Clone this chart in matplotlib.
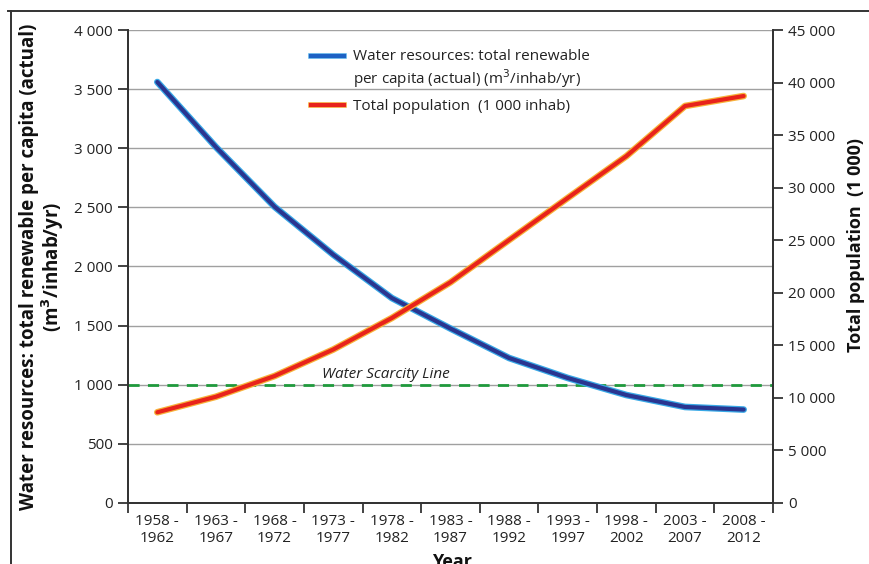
import matplotlib
matplotlib.use("Agg")
import matplotlib.pyplot as plt
import matplotlib.patheffects as pe
from matplotlib.lines import Line2D
from matplotlib.ticker import FuncFormatter, MultipleLocator, FixedLocator

plt.rcParams['font.family'] = ['Open Sans', 'DejaVu Sans']

periodos = ["1958 -\n1962", "1963 -\n1967", "1968 -\n1972", "1973 -\n1977",
            "1978 -\n1982", "1983 -\n1987", "1988 -\n1992", "1993 -\n1997",
            "1998 -\n2002", "2003 -\n2007", "2008 -\n2012"]
agua_per_capita = [3560, 3010, 2505, 2100, 1733, 1475, 1226, 1057, 913, 812, 790]
populacao = [8630, 10110, 12080, 14600, 17600, 21000, 25020, 29020, 33000, 37770, 38720]
linha_escassez = 1000

fig = plt.figure(figsize=(8.69, 5.64), dpi=100)
ax = fig.add_axes([0.1473, 0.1082, 0.7422, 0.8386])
ax2 = ax.twinx()

x = list(range(len(periodos)))

def milhar(v, pos):
    return f"{int(v):,}".replace(",", " ")

# eixo esquerdo: agua per capita
ax.set_ylim(0, 4000)
ax.set_xlim(-0.5, len(periodos) - 0.5)
ax.yaxis.set_major_locator(MultipleLocator(500))
ax.yaxis.set_major_formatter(FuncFormatter(milhar))
ax.grid(axis='y', color='#a0a0a0', linewidth=1.0)
ax.set_axisbelow(True)

ax.axhline(linha_escassez, color='#1f9a3c', linewidth=2, linestyle=(0, (4, 3)), zorder=2)
ax.text(0.301, linha_escassez + 25, "Water Scarcity Line", transform=ax.get_yaxis_transform(),
        fontsize=11, style='italic', color='#222222', va='bottom', ha='left')

azul, = ax.plot(x, agua_per_capita, color='#2a3590', linewidth=3, zorder=4,
                solid_capstyle='round',
                path_effects=[pe.Stroke(linewidth=4.8, foreground='#38a8e6'), pe.Normal()])

# eixo direito: populacao
ax2.set_ylim(0, 45000)
ax2.yaxis.set_major_locator(MultipleLocator(5000))
ax2.yaxis.set_major_formatter(FuncFormatter(milhar))
vermelho, = ax2.plot(x, populacao, color='#e8231b', linewidth=3, zorder=4,
                     solid_capstyle='round',
                     path_effects=[pe.Stroke(linewidth=4.8, foreground='#f7b23a'), pe.Normal()])

# categorias no meio, marcas nos limites
ax.xaxis.set_major_locator(FixedLocator([i - 0.5 for i in range(len(periodos) + 1)]))
ax.xaxis.set_major_formatter(FuncFormatter(lambda v, p: ""))
ax.xaxis.set_minor_locator(FixedLocator(x))
ax.set_xticklabels(periodos, minor=True)
ax.tick_params(axis='x', which='major', direction='out', length=7, width=1.2, color='#222222')
ax.tick_params(axis='x', which='minor', length=0, pad=8, labelsize=11, labelcolor='#222222')
ax.tick_params(axis='y', direction='out', length=7, width=1.2, color='#222222',
               labelsize=11, labelcolor='#222222', pad=4)
ax2.tick_params(axis='y', direction='out', length=7, width=1.2, color='#222222',
                labelsize=11, labelcolor='#222222', pad=4)

for a in (ax, ax2):
    a.spines['top'].set_visible(False)
    for s in ('left', 'right', 'bottom'):
        a.spines[s].set_color('#333333')
        a.spines[s].set_linewidth(1.3)

# legenda
h1 = Line2D([], [], color='#1d62c4', linewidth=3,
            path_effects=[pe.Stroke(linewidth=4, foreground='#5ab4ea'), pe.Normal()])
h2 = Line2D([], [], color='#e8231b', linewidth=3,
            path_effects=[pe.Stroke(linewidth=4, foreground='#f7b23a'), pe.Normal()])
leg = ax.legend([h1, h2],
                ["Water resources: total renewable\nper capita (actual) (m$^3$/inhab/yr)",
                 "Total population  (1 000 inhab)"],
                loc='upper left', bbox_to_anchor=(0.262, 0.989), frameon=False,
                fontsize=11, handlelength=2.2, handletextpad=0.55, labelspacing=0.6)
for t in leg.get_texts():
    t.set_color('#222222')
# a linha da primeira entrada fica na altura da primeira linha do texto
linha_leg = leg.legend_handles[0]
linha_leg.set_ydata([v + 10 for v in linha_leg.get_ydata()])

# titulos dos eixos
fig.text(0.049, 0.5275,
         "Water resources: total renewable per capita (actual)\n(m$^\\mathbf{3}$/inhab/yr)",
         rotation=90, ha='center', va='center', multialignment='center',
         fontsize=13.5, fontweight='bold', color='#111111', linespacing=1.0)
fig.text(0.985, 0.5656, "Total population  (1 000)", rotation=90, ha='center', va='center',
         fontsize=13, fontweight='bold', color='#111111')
fig.text(0.520, 0.0195, "Year", ha='center', va='top', fontsize=13, fontweight='bold',
         color='#111111')

# moldura
fig.add_artist(Line2D([0.009, 1.0], [0.9805, 0.9805], transform=fig.transFigure,
                      color='#333333', linewidth=1.4))
fig.add_artist(Line2D([0.0127, 0.0127], [0.0, 0.9805], transform=fig.transFigure,
                      color='#333333', linewidth=1.4))

fig.savefig("out.png", dpi=100)
plt.close(fig)
